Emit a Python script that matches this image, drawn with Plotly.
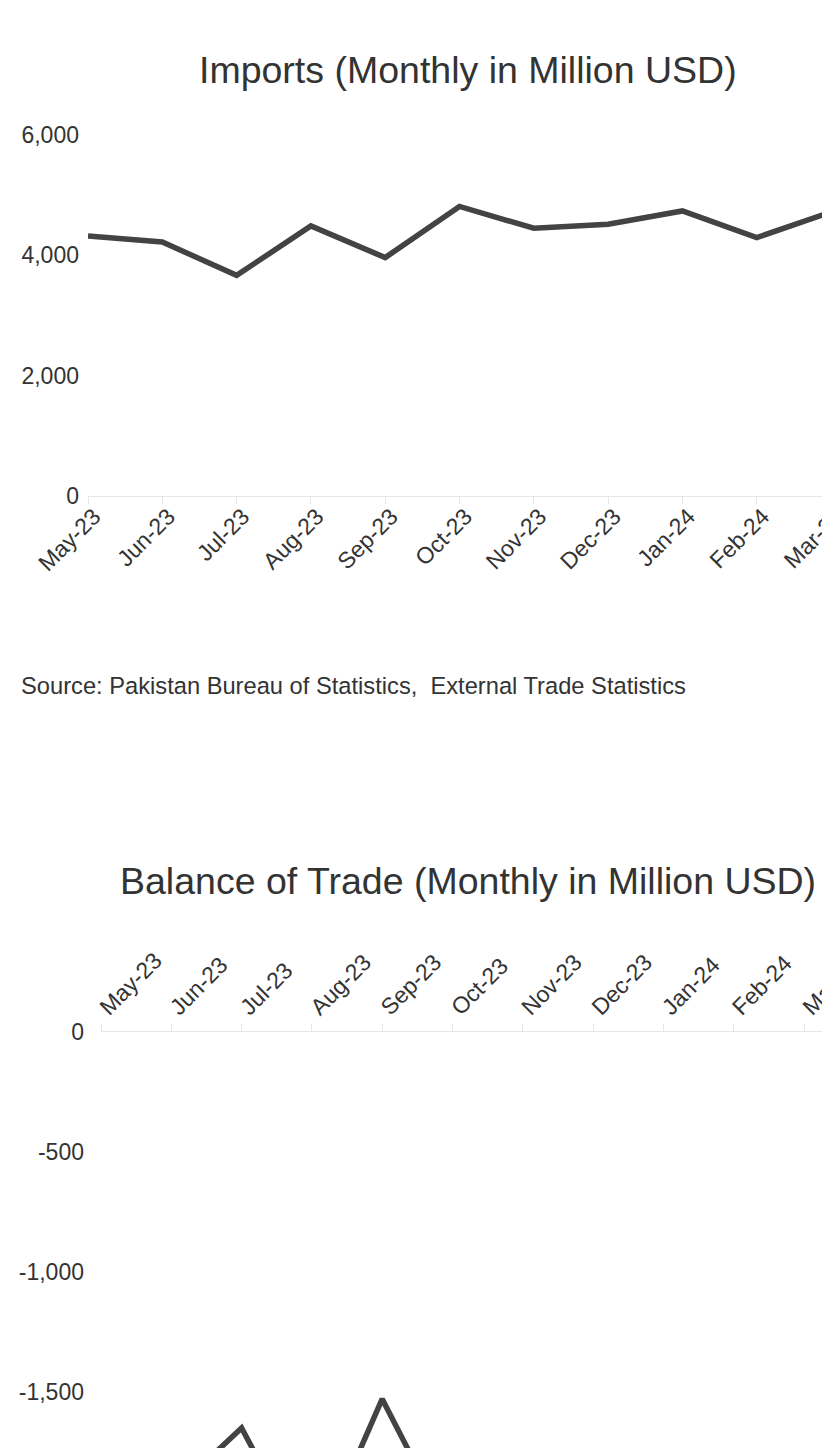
import plotly.graph_objects as go

months = ["May-23", "Jun-23", "Jul-23", "Aug-23", "Sep-23", "Oct-23",
          "Nov-23", "Dec-23", "Jan-24", "Feb-24", "Mar-24", "Apr-24"]
imports = [4322, 4222, 3667, 4488, 3962, 4812, 4450, 4517, 4738, 4295, 4720, 4600]
balance = [-1950, -1925, -1650, -2200, -1529, -2100, -2050, -1800, -2150, -1850, -2000, -2200]

imp_ticks = [0, 2000, 4000, 6000]
imp_ticktext = ["0", "2,000", "4,000", "6,000"]
bal_ticks = [0, -500, -1000, -1500, -2000, -2500]
bal_ticktext = ["0", "-500", "-1,000", "-1,500", "-2,000", "-2,500"]

title1 = "Imports (Monthly in Million USD)"
title2 = "Balance of Trade (Monthly in Million USD)"
source = "Source: Pakistan Bureau of Statistics,  External Trade Statistics"

W, H = 936, 1700
FONT = "Liberation Sans, Arial, Helvetica, sans-serif"
TXT = "#333333"
LINE = "#434343"
AX = "#e6e6e6"


def px_x(p):
    return p / W


def px_y(p):
    return 1 - p / H


fig = go.Figure()
fig.add_trace(go.Scatter(x=months, y=imports, mode="lines",
                         line=dict(color=LINE, width=5.5), xaxis="x", yaxis="y",
                         showlegend=False, hoverinfo="x+y"))
fig.add_trace(go.Scatter(x=months, y=balance, mode="lines",
                         line=dict(color=LINE, width=5.5), xaxis="x2", yaxis="y2",
                         showlegend=False, hoverinfo="x+y"))

common_x = dict(type="category", showgrid=False, showline=True, linecolor=AX,
                linewidth=1, ticks="outside", tickcolor=AX, ticklen=7, tickwidth=1,
                tickangle=-45, tickfont=dict(size=23, color=TXT, family=FONT),
                range=[0, len(months) - 1], zeroline=False, fixedrange=True,
                automargin=False)
common_y = dict(showgrid=False, zeroline=False, showline=False, ticks="",
                tickfont=dict(size=23, color=TXT, family=FONT), fixedrange=True,
                automargin=False)

fig.update_layout(
    width=W, height=H, autosize=False,
    margin=dict(l=0, r=0, t=0, b=0, autoexpand=False),
    paper_bgcolor="white", plot_bgcolor="white",
    font=dict(family=FONT, color=TXT),
    xaxis=dict(domain=[px_x(88), px_x(88 + 11 * 74.3)], anchor="y", side="bottom",
               ticklabelstandoff=-10, ticklabelshift=6, **common_x),
    yaxis=dict(domain=[px_y(496), px_y(135)], range=[0, 6000], tickvals=imp_ticks,
               ticktext=imp_ticktext, ticklabelstandoff=8, anchor="x", **common_y),
    xaxis2=dict(domain=[px_x(101), px_x(101 + 11 * 70.3)], anchor="y2", side="top",
                ticklabelstandoff=-5, **common_x),
    yaxis2=dict(domain=[px_y(1632), px_y(1032)], range=[-2500, 0], tickvals=bal_ticks,
                ticktext=bal_ticktext, ticklabelstandoff=16, anchor="x2", **common_y),
    annotations=[
        dict(text=title1, x=px_x(468), y=px_y(93), xref="paper", yref="paper",
             xanchor="center", yanchor="bottom", showarrow=False,
             font=dict(size=37.5, color=TXT, family=FONT)),
        dict(text=title2, x=px_x(468), y=px_y(904), xref="paper", yref="paper",
             xanchor="center", yanchor="bottom", showarrow=False,
             font=dict(size=37.5, color=TXT, family=FONT)),
        dict(text=source, x=px_x(19), y=px_y(686), xref="paper", yref="paper",
             xanchor="left", yanchor="middle", showarrow=False,
             font=dict(size=23.7, color=TXT, family=FONT)),
    ],
)

post = ("document.body.style.margin='0';document.body.style.overflow='hidden';"
        "document.documentElement.style.overflow='hidden';")
fig.write_html("out.html", config={"displayModeBar": False}, post_script=post)
